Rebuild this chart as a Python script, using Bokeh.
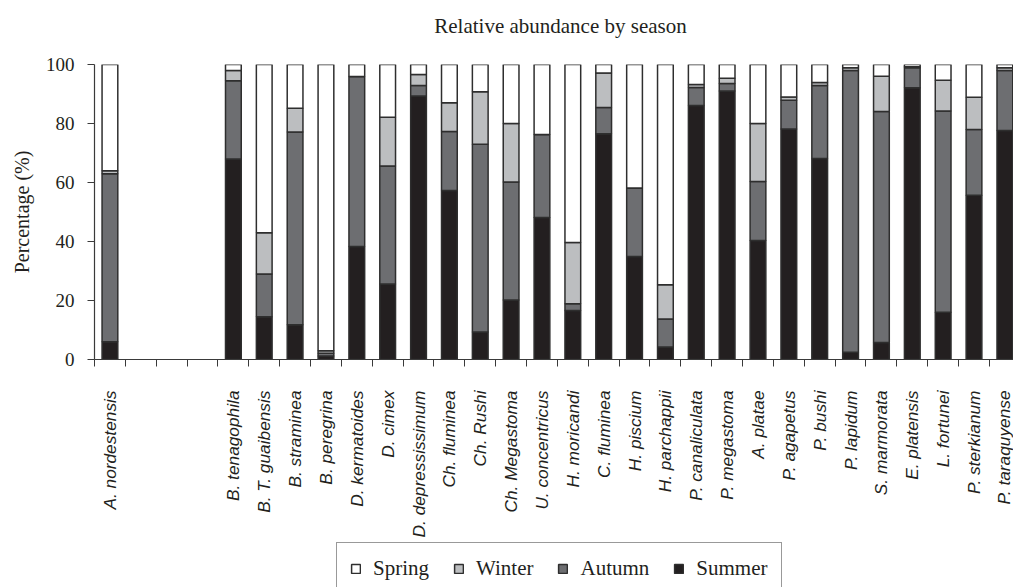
import math
from bokeh.plotting import figure
from bokeh.layouts import column
from bokeh.models import (ColumnDataSource, FixedTicker, Legend, LegendItem,
                          Range1d, Label)
from bokeh.embed import file_html
from bokeh.resources import INLINE

# ---- data (blank names are empty category slots) ----
title_text = "Relative abundance by season"
species = ["A. nordestensis", "", "", "",
           "B. tenagophila", "B. T. guaibensis", "B. straminea", "B. peregrina",
           "D. kermatoides", "D. cimex", "D. depressissimum", "Ch. fluminea",
           "Ch. Rushi", "Ch. Megastoma", "U. concentricus", "H. moricandi",
           "C. fluminea", "H. piscium", "H. parchappii", "P. canaliculata",
           "P. megastoma", "A. platae", "P. agapetus", "P. bushi",
           "P. lapidum", "S. marmorata", "E. platensis", "L. fortunei",
           "P. sterkianum", "P. taraquyense"]
summer = [6.0, None, None, None,
          68.0, 14.5, 11.8, 1.2, 38.3, 25.6, 89.3, 57.3, 9.3, 20.2, 48.1, 16.6,
          76.5, 34.9, 4.2, 86.1, 91.0, 40.3, 78.1, 68.1, 2.5, 5.8, 92.1, 16.0,
          55.7, 77.6]
autumn = [57.0, None, None, None,
          26.5, 14.5, 65.3, 0.9, 57.6, 40.0, 3.6, 20.0, 63.7, 40.0, 28.2, 2.3,
          8.9, 23.2, 9.5, 6.1, 2.6, 20.0, 9.8, 24.8, 95.5, 78.3, 6.8, 68.2,
          22.3, 20.4]
winter = [1.0, None, None, None,
          3.5, 14.0, 8.1, 0.9, 0.0, 16.5, 3.7, 9.7, 17.8, 19.8, 0.0, 20.8,
          11.7, 0.0, 11.6, 1.0, 1.7, 19.7, 1.1, 1.0, 0.9, 11.9, 0.3, 10.5,
          10.9, 0.9]
spring = [36.0, None, None, None,
          2.0, 57.0, 14.8, 97.0, 4.1, 17.9, 3.4, 13.0, 9.2, 20.0, 23.7, 60.3,
          2.9, 41.9, 74.7, 6.8, 4.7, 20.0, 11.0, 6.1, 1.1, 4.0, 0.8, 5.3,
          11.1, 1.1]
seasons = ["Summer", "Autumn", "Winter", "Spring"]
legend_order = ["Spring", "Winter", "Autumn", "Summer"]
colors = {"Summer": "#231f20", "Autumn": "#6d6e71", "Winter": "#bcbec0", "Spring": "#ffffff"}
y_ticks = [0, 20, 40, 60, 80, 100]

idx = [i for i, s in enumerate(species) if s]
source = ColumnDataSource(dict(
    x=idx,
    Summer=[summer[i] for i in idx],
    Autumn=[autumn[i] for i in idx],
    Winter=[winter[i] for i in idx],
    Spring=[spring[i] for i in idx],
))

SERIF = "Liberation Serif"
INK = "#231f20"
AX = "#3a3a3a"
BAR_LINE = "#2e2e2e"
LEFT = 94


def blank_strip(h):
    f = figure(width=1013, height=h, output_backend="svg", toolbar_location=None,
               x_range=Range1d(0, 1), y_range=Range1d(0, 1),
               x_axis_type=None, y_axis_type=None,
               min_border_left=LEFT, min_border_right=0, min_border_top=0,
               min_border_bottom=0)
    f.outline_line_color = None
    f.xgrid.grid_line_color = None
    f.ygrid.grid_line_color = None
    return f


# title strip
top = blank_strip(50)
top.add_layout(Label(x=0.5, y=0.5, text=title_text, text_align="center",
                     text_baseline="middle", x_offset=6.5,
                     text_font=SERIF, text_font_size="21px", text_color=INK))

# main chart
p = figure(width=1013, height=491, output_backend="svg", toolbar_location=None,
           x_range=Range1d(-0.5, len(species) - 0.72), y_range=Range1d(0, 100),
           min_border_left=LEFT, min_border_right=0, min_border_top=14,
           min_border_bottom=182)
p.outline_line_color = None
p.xgrid.grid_line_color = None
p.ygrid.grid_line_color = None
p.background_fill_color = "white"
p.border_fill_color = "white"

renderers = p.vbar_stack(seasons, x="x", width=0.51, source=source,
                         fill_color=[colors[s] for s in seasons],
                         line_color=BAR_LINE, line_width=1.5)

# y axis
ya = p.yaxis[0]
ya.ticker = FixedTicker(ticks=y_ticks)
ya.minor_tick_line_color = None
ya.major_tick_out = 7
ya.major_tick_in = 0
ya.major_tick_line_color = AX
ya.axis_line_color = AX
ya.axis_line_width = 1.2
ya.major_label_text_font = SERIF
ya.major_label_text_font_size = "19px"
ya.major_label_text_color = INK
ya.major_label_standoff = 13
ya.axis_label = "Percentage (%)"
ya.axis_label_text_font = SERIF
ya.axis_label_text_font_size = "20px"
ya.axis_label_text_font_style = "normal"
ya.axis_label_text_color = INK
ya.axis_label_standoff = 10

# x axis: labels at slot centres, tick marks at slot boundaries
xa = p.xaxis[0]
xa.ticker = FixedTicker(ticks=idx,
                        minor_ticks=[i + 0.5 for i in range(-1, len(species))])
xa.major_label_overrides = {i: species[i] for i in idx}
xa.major_tick_out = 0
xa.major_tick_in = 0
xa.major_tick_line_color = None
xa.minor_tick_out = 7
xa.minor_tick_in = 0
xa.minor_tick_line_color = AX
xa.axis_line_color = AX
xa.axis_line_width = 1.2
xa.major_label_orientation = math.pi / 2
xa.major_label_text_font = "Liberation Sans"
xa.major_label_text_font_style = "italic"
xa.major_label_text_font_size = "17.3px"
xa.major_label_text_color = INK
xa.major_label_standoff = 24

# legend strip below the chart
leg = blank_strip(46)
leg_r = {}
for s in seasons:
    r = leg.vbar(x=[0], top=[0], width=0, fill_color=colors[s],
                 line_color=BAR_LINE, line_width=1.5)
    r.visible = False
    leg_r[s] = r
legend = Legend(items=[LegendItem(label=s, renderers=[leg_r[s]]) for s in legend_order],
                orientation="horizontal", location=(242, -8),
                glyph_width=11, glyph_height=11, label_standoff=12, spacing=24,
                padding=13, margin=0, label_height=18,
                inactive_fill_alpha=0.0,
                label_text_font=SERIF, label_text_font_size="21px",
                label_text_color=INK, border_line_color="#333333",
                border_line_width=1, background_fill_alpha=1.0)
leg.add_layout(legend, "center")

layout = column(top, p, leg, spacing=0)
open("out.html", "w").write(file_html(layout, INLINE))
